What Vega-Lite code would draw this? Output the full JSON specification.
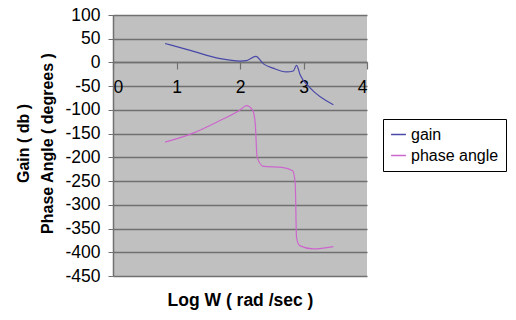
{
  "$schema": "https://vega.github.io/schema/vega-lite/v6.json",
  "autosize": {"type": "none"},
  "padding": {"left": 113, "top": 15, "right": 149, "bottom": 44},
  "width": 254,
  "height": 261,
  "background": "white",
  "config": {
    "view": {"fill": "#C0C0C0", "stroke": null},
    "font": "Liberation Sans"
  },
  "data": {
    "values": [
      {"x": 0.82, "y": 40, "s": "gain"},
      {"x": 1.2, "y": 26, "s": "gain"},
      {"x": 1.69, "y": 8, "s": "gain"},
      {"x": 2.0, "y": 3, "s": "gain"},
      {"x": 2.1, "y": 4, "s": "gain"},
      {"x": 2.25, "y": 13, "s": "gain"},
      {"x": 2.37, "y": -3, "s": "gain"},
      {"x": 2.52, "y": -12, "s": "gain"},
      {"x": 2.73, "y": -20, "s": "gain"},
      {"x": 2.84, "y": -18, "s": "gain"},
      {"x": 2.89, "y": -6, "s": "gain"},
      {"x": 2.95, "y": -27, "s": "gain"},
      {"x": 3.1, "y": -53, "s": "gain"},
      {"x": 3.47, "y": -89, "s": "gain"},
      {"x": 0.82, "y": -168, "s": "phase angle"},
      {"x": 1.26, "y": -149, "s": "phase angle"},
      {"x": 1.63, "y": -126, "s": "phase angle"},
      {"x": 2.0, "y": -100, "s": "phase angle"},
      {"x": 2.1, "y": -91, "s": "phase angle"},
      {"x": 2.2, "y": -101, "s": "phase angle"},
      {"x": 2.24, "y": -129, "s": "phase angle"},
      {"x": 2.27, "y": -200, "s": "phase angle"},
      {"x": 2.37, "y": -219, "s": "phase angle"},
      {"x": 2.66, "y": -221, "s": "phase angle"},
      {"x": 2.83, "y": -228, "s": "phase angle"},
      {"x": 2.87, "y": -256, "s": "phase angle"},
      {"x": 2.89, "y": -369, "s": "phase angle"},
      {"x": 2.94, "y": -386, "s": "phase angle"},
      {"x": 3.15, "y": -393, "s": "phase angle"},
      {"x": 3.47, "y": -388, "s": "phase angle"}
    ]
  },
  "mark": {"type": "line", "strokeWidth": 1.2, "interpolate": "monotone"},
  "encoding": {
    "x": {
      "field": "x", "type": "quantitative",
      "scale": {"domain": [0, 4], "nice": false},
      "axis": {
        "orient": "bottom", "offset": -214,
        "values": [0, 1, 2, 3, 4], "labelExpr": "'' + datum.value",
        "grid": false, "domain": true, "domainColor": "#707070", "domainWidth": 1.5,
        "tickColor": "#707070", "tickSize": 7, "tickWidth": 1.2,
        "labelFontSize": 17.5, "labelColor": "#000", "labelPadding": 9,
        "title": "Log W ( rad /sec )", "titleFontSize": 17.5, "titleFontWeight": "bold",
        "titleColor": "#000", "titleY": 238, "titleBaseline": "middle"
      }
    },
    "y": {
      "field": "y", "type": "quantitative",
      "scale": {"domain": [-450, 100], "nice": false},
      "axis": {
        "values": [100, 50, 0, -50, -100, -150, -200, -250, -300, -350, -400, -450],
        "labelExpr": "'' + datum.value",
        "grid": true, "gridColor": "#707070", "gridWidth": 1.5,
        "domain": true, "domainColor": "#707070", "domainWidth": 1.5,
        "tickColor": "#707070", "tickSize": 5,
        "labelFontSize": 17.5, "labelColor": "#000", "labelPadding": 8,
        "title": ["      Gain ( db )", "Phase Angle ( degrees )"],
        "titleFontSize": 16, "titleFontWeight": "bold", "titleColor": "#000",
        "titleLineHeight": 24, "titlePadding": 9, "titleY": 128
      }
    },
    "color": {
      "field": "s", "type": "nominal",
      "scale": {"domain": ["gain", "phase angle"], "range": ["#4848A8", "#CC66CC"]},
      "legend": {
        "title": null, "orient": "none", "legendX": 270, "legendY": 104,
        "strokeColor": "#000", "fillColor": "white", "padding": 7,
        "symbolType": "stroke", "symbolSize": 220, "symbolStrokeWidth": 1.5,
        "labelFontSize": 16, "labelColor": "#000", "rowPadding": 4,
        "labelLimit": 200
      }
    }
  }
}
